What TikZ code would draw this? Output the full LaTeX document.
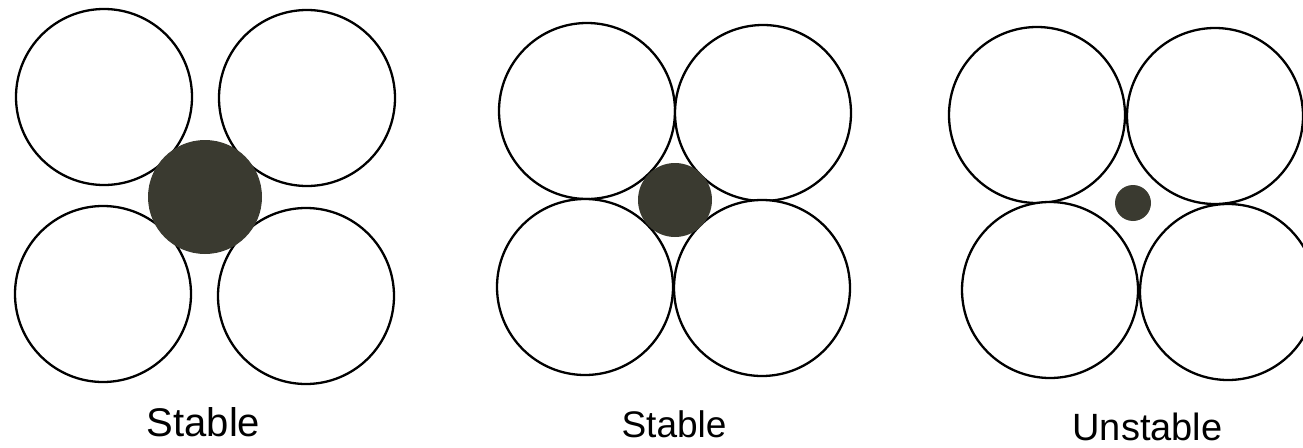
\documentclass[tikz,border=0pt]{standalone}
\usepackage{fontspec}
\setmainfont{Liberation Sans}
\definecolor{kerngrau}{RGB}{58,58,48}
\begin{document}
\begin{tikzpicture}[x=1pt,y=-1pt]
  % Parameter
  \def\radius{88}
  \tikzset{kugel/.style={draw=black, line width=2.3pt, fill=white},
           kern/.style={fill=kerngrau}}
  \useasboundingbox (0,0) rectangle (1303,447);
  \clip (0,0) rectangle (1303,447);

  % 1. Linkes Bild: großes Zentralteilchen (stabil)
  \draw[kugel] (104,97) circle (\radius);
  \draw[kugel] (307,98) circle (\radius);
  \draw[kugel] (103,294) circle (\radius);
  \draw[kugel] (306,296) circle (\radius);
  \fill[kern] (205,197) circle (57);

  % 2. Mittleres Bild: Teilchen passt genau in die Lücke (stabil)
  \draw[kugel] (587,111) circle (\radius);
  \draw[kugel] (763,113) circle (\radius);
  \draw[kugel] (585,287) circle (\radius);
  \draw[kugel] (762,288) circle (\radius);
  \fill[kern] (675,200) circle (37);

  % 3. Rechtes Bild: zu kleines Teilchen (instabil)
  \draw[kugel] (1037,115) circle (\radius);
  \draw[kugel] (1215,116) circle (\radius);
  \draw[kugel] (1050,290) circle (\radius);
  \draw[kugel] (1228,292) circle (\radius);
  \fill[kern] (1133,203) circle (18);

  % Beschriftungen
  \node[anchor=base, font=\fontsize{40}{44}\selectfont, inner sep=0pt] (stabil1) at (203.5,436) {Stable};
  \node[anchor=base, font=\fontsize{37}{42}\selectfont, inner sep=0pt] (stabil2) at (674,437) {Stable};
  \node[anchor=base, font=\fontsize{38}{43}\selectfont, inner sep=0pt] (instabil) at (1147.5,440) {Unstable};
\end{tikzpicture}
\end{document}
